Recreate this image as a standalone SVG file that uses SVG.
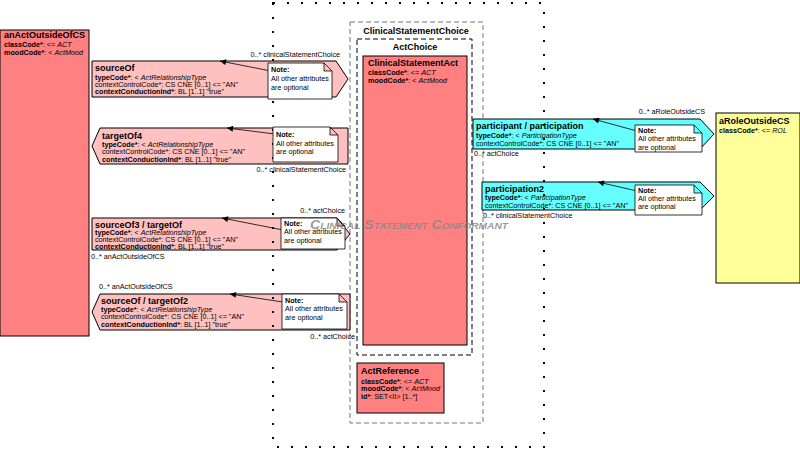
<svg xmlns="http://www.w3.org/2000/svg" width="800" height="451" viewBox="0 0 800 451">
<defs>
<style>
text{font-family:"Liberation Sans",Arial,sans-serif;fill:#000}
.t{font-size:9px;font-weight:bold}
.a{font-size:7.2px}
.b{font-weight:bold}
.i{font-style:italic}
.cls{fill:#ff8080;stroke:#000;stroke-width:1}
.rel{fill:#ffc0c0;stroke:#000;stroke-width:1}
.par{fill:#66ffff;stroke:#000;stroke-width:1}
.role{fill:#ffff99;stroke:#000;stroke-width:1}
.note{fill:#fff;stroke:#000;stroke-width:0.8}
.conn{stroke:#000;stroke-width:0.8;fill:none;marker-end:url(#ah)}
.wm{font-size:12.5px;font-weight:bold;font-style:italic;font-variant:small-caps;fill:#888;fill-opacity:0.85}
</style>
<marker id="ah" viewBox="0 0 10 10" refX="10" refY="5" markerWidth="8" markerHeight="6" orient="auto" markerUnits="userSpaceOnUse">
<path d="M0,0 L10,5 L0,10 z" fill="#000"/>
</marker>
</defs>
<rect width="800" height="451" fill="#fff"/>

<g id="clinicalStatementChoice">
<rect x="350" y="22" width="133" height="401" fill="none" stroke="#777" stroke-width="1" stroke-dasharray="5 3"/>
<text class="t" x="416" y="34" text-anchor="middle">ClinicalStatementChoice</text>
</g>
<g id="actChoice">
<rect x="357" y="39" width="115" height="316" fill="none" stroke="#000" stroke-width="1" stroke-dasharray="5 3"/>
<text class="t" x="415" y="50" text-anchor="middle">ActChoice</text>
</g>
<g id="clinicalStatementAct">
<rect class="cls" x="363" y="56" width="104" height="289"/>
<text class="t" x="368" y="66">ClinicalStatementAct</text>
<text class="a" x="368" y="75"><tspan class="b">classCode*</tspan>: &lt;= <tspan class="i">ACT</tspan></text>
<text class="a" x="368" y="83"><tspan class="b">moodCode*</tspan>: &lt; <tspan class="i">ActMood</tspan></text>
</g>
<g id="actReference">
<rect class="cls" x="357" y="363" width="87" height="50"/>
<text class="t" x="361" y="374">ActReference</text>
<text class="a" x="361" y="384"><tspan class="b">classCode*</tspan>: &lt;= <tspan class="i">ACT</tspan></text>
<text class="a" x="361" y="391"><tspan class="b">moodCode*</tspan>: &lt; <tspan class="i">ActMood</tspan></text>
<text class="a" x="361" y="399"><tspan class="b">id*</tspan>: SET&lt;II&gt; [1..*]</text>
</g>

<g id="anActOutsideOfCS">
<rect class="cls" x="0" y="30" width="89" height="306"/>
<text class="t" x="4" y="38">anActOutsideOfCS</text>
<text class="a" x="4" y="47"><tspan class="b">classCode*</tspan>: &lt;= <tspan class="i">ACT</tspan></text>
<text class="a" x="4" y="55"><tspan class="b">moodCode*</tspan>: &lt; <tspan class="i">ActMood</tspan></text>
</g>

<g id="aRoleOutsideCS">
<rect class="role" x="716" y="113" width="84" height="170"/>
<text class="t" x="719" y="124">aRoleOutsideCS</text>
<text class="a" x="719" y="133"><tspan class="b">classCode*</tspan>: &lt;= <tspan class="i">ROL</tspan></text>
</g>

<g id="sourceOf">
<path class="rel" d="M92,61 H336 L348,79 L336,97 H92 Z"/>
<text class="t" x="95" y="71">sourceOf</text>
<text class="a" x="95" y="80"><tspan class="b">typeCode*</tspan>: &lt; <tspan class="i">ActRelationshipType</tspan></text>
<text class="a" x="95" y="87">contextControlCode*: CS CNE [0..1] &lt;= "AN"</text>
<text class="a" x="95" y="94"><tspan class="b">contextConductionInd*</tspan>: BL [1..1] "true"</text>
<text class="a" x="340" y="57" text-anchor="end">0..* clinicalStatementChoice</text>
</g>

<g id="targetOf4">
<path class="rel" d="M100,128 H348 V164 H100 L92,146 Z"/>
<text class="t" x="102" y="139">targetOf4</text>
<text class="a" x="102" y="147"><tspan class="b">typeCode*</tspan>: &lt; <tspan class="i">ActRelationshipType</tspan></text>
<text class="a" x="102" y="154">contextControlCode*: CS CNE [0..1] &lt;= "AN"</text>
<text class="a" x="102" y="162"><tspan class="b">contextConductionInd*</tspan>: BL [1..1] "true"</text>
<text class="a" x="346" y="172" text-anchor="end">0..* clinicalStatementChoice</text>
</g>

<g id="sourceOf3_targetOf">
<path class="rel" d="M92,218 H337 L350,234 L337,250 H92 Z"/>
<text class="t" x="95" y="228">sourceOf3 / targetOf</text>
<text class="a" x="95" y="235"><tspan class="b">typeCode*</tspan>: &lt; <tspan class="i">ActRelationshipType</tspan></text>
<text class="a" x="95" y="242">contextControlCode*: CS CNE [0..1] &lt;= "AN"</text>
<text class="a" x="95" y="249"><tspan class="b">contextConductionInd*</tspan>: BL [1..1] "true"</text>
<text class="a" x="345" y="213" text-anchor="end">0..* actChoice</text>
<text class="a" x="91" y="259">0..* anActOutsideOfCS</text>
</g>

<g id="sourceOf_targetOf2">
<path class="rel" d="M100,294 H350 V330 H100 L92,312 Z"/>
<text class="t" x="101" y="304">sourceOf / targetOf2</text>
<text class="a" x="101" y="312"><tspan class="b">typeCode*</tspan>: &lt; <tspan class="i">ActRelationshipType</tspan></text>
<text class="a" x="101" y="319">contextControlCode*: CS CNE [0..1] &lt;= "AN"</text>
<text class="a" x="101" y="327"><tspan class="b">contextConductionInd*</tspan>: BL [1..1] "true"</text>
<text class="a" x="99" y="289">0..* anActOutsideOfCS</text>
<text class="a" x="355" y="339" text-anchor="end">0..* actChoice</text>
</g>

<g id="participant_participation">
<path class="par" d="M473,119 H700 L714,134 L700,149 H473 Z"/>
<text class="t" x="476" y="129">participant / participation</text>
<text class="a" x="476" y="138"><tspan class="b">typeCode*</tspan>: &lt; <tspan class="i">ParticipationType</tspan></text>
<text class="a" x="476" y="146">contextControlCode*: CS CNE [0..1] &lt;= "AN"</text>
<text class="a" x="705" y="114" text-anchor="end">0..* aRoleOutsideCS</text>
<text class="a" x="474" y="156">0..* actChoice</text>
</g>

<g id="participation2">
<path class="par" d="M482,182 H700 L714,196 L700,210 H482 Z"/>
<text class="t" x="485" y="192">participation2</text>
<text class="a" x="485" y="200"><tspan class="b">typeCode*</tspan>: &lt; <tspan class="i">ParticipationType</tspan></text>
<text class="a" x="485" y="208">contextControlCode*: CS CNE [0..1] &lt;= "AN"</text>
<text class="a" x="483" y="218">0..* clinicalStatementChoice</text>
</g>

<g id="border" fill="none" stroke="#000" stroke-width="2" stroke-dasharray="2 12">
<path d="M273,3 H544 V447 H273 Z"/>
</g>

<g id="connectors">
<line class="conn" x1="276" y1="72" x2="220" y2="61"/>
<line class="conn" x1="275" y1="134" x2="227" y2="128"/>
<line class="conn" x1="283" y1="230" x2="222" y2="218"/>
<line class="conn" x1="283" y1="302" x2="230" y2="294"/>
<line class="conn" x1="637" y1="131" x2="593" y2="119"/>
<line class="conn" x1="637" y1="191" x2="598" y2="182"/>
</g>

<g id="note1">
<path class="note" d="M268,63 H324 L332,71 V99 H268 Z M324,63 V71 H332"/>
<text class="a" x="271" y="72"><tspan class="b">Note:</tspan></text>
<text class="a" x="271" y="81">All other attributes</text>
<text class="a" x="271" y="90">are optional</text>
</g>
<g id="note2">
<path class="note" d="M273,127 H330 L338,135 V162 H273 Z M330,127 V135 H338"/>
<text class="a" x="276" y="137"><tspan class="b">Note:</tspan></text>
<text class="a" x="276" y="146">All other attributes</text>
<text class="a" x="276" y="154">are optional</text>
</g>
<g id="note3">
<path class="note" d="M281,218 H337 L345,226 V249 H281 Z M337,218 V226 H345"/>
<text class="a" x="284" y="226"><tspan class="b">Note:</tspan></text>
<text class="a" x="284" y="234">All other attributes</text>
<text class="a" x="284" y="243">are optional</text>
</g>
<g id="note4">
<path class="note" d="M282,294 H339 L347,302 V329 H282 Z M339,294 V302 H347"/>
<text class="a" x="285" y="303"><tspan class="b">Note:</tspan></text>
<text class="a" x="285" y="311">All other attributes</text>
<text class="a" x="285" y="320">are optional</text>
</g>
<g id="note5">
<path class="note" d="M635,125 H694 L702,133 V152 H635 Z M694,125 V133 H702"/>
<text class="a" x="638" y="133"><tspan class="b">Note:</tspan></text>
<text class="a" x="638" y="141">All other attributes</text>
<text class="a" x="638" y="150">are optional</text>
</g>
<g id="note6">
<path class="note" d="M635,185 H694 L702,193 V215 H635 Z M694,185 V193 H702"/>
<text class="a" x="638" y="193"><tspan class="b">Note:</tspan></text>
<text class="a" x="638" y="201">All other attributes</text>
<text class="a" x="638" y="209">are optional</text>
</g>

<text class="wm" x="310" y="229" textLength="198" lengthAdjust="spacingAndGlyphs">Clinical Statement Conformant</text>
</svg>
